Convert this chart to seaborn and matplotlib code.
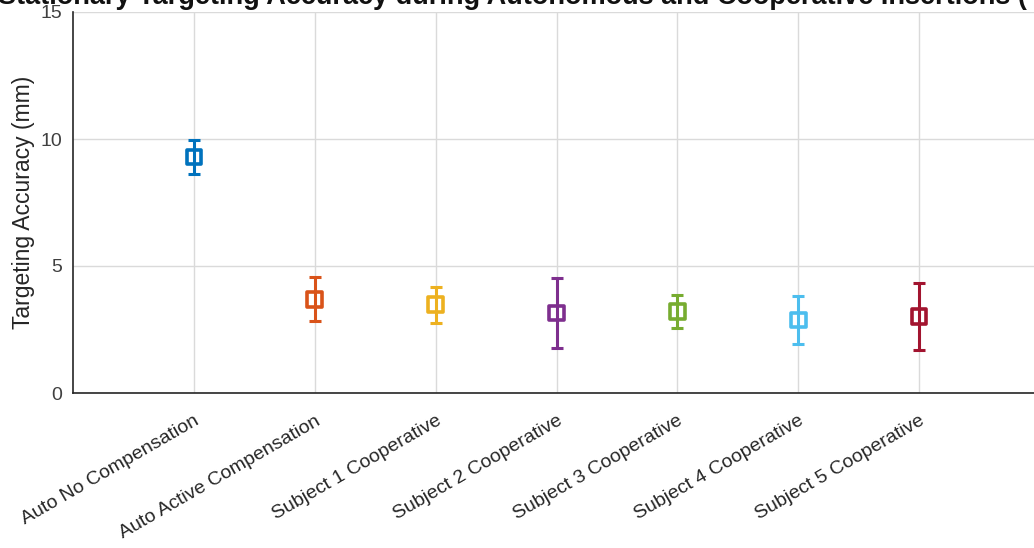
import numpy as np
import pandas as pd
import matplotlib
matplotlib.use("Agg")
import matplotlib.pyplot as plt
import seaborn as sns

categories = ["Auto No Compensation", "Auto Active Compensation",
              "Subject 1 Cooperative", "Subject 2 Cooperative",
              "Subject 3 Cooperative", "Subject 4 Cooperative",
              "Subject 5 Cooperative"]
means = [9.29, 3.69, 3.48, 3.15, 3.20, 2.88, 3.02]
errors = [0.67, 0.87, 0.71, 1.38, 0.66, 0.95, 1.31]
colors = ["#0072BD", "#D95319", "#EDB120", "#7E2F8E", "#77AC30", "#4DBEEE", "#A2142F"]
y_ticks = [0, 5, 10, 15]
title = "Stationary Targeting Accuracy during Autonomous and Cooperative Insertions ("
ylabel = "Targeting Accuracy (mm)"

sns.set_style("white")
plt.rcParams["font.family"] = ["Liberation Sans", "DejaVu Sans"]

W, H = 1034, 548
fig = plt.figure(figsize=(W / 100, H / 100), dpi=100)
ax = fig.add_axes([73 / W, 155 / H, 967 / W, 381 / H])

pos = np.arange(1, len(categories) + 1)
df = pd.DataFrame({"pos": pos, "mean": means, "err": errors, "cat": categories})

for x, m, e, c in zip(df["pos"], df["mean"], df["err"], colors):
    ax.errorbar(x, m, yerr=e, fmt="none", ecolor=c, elinewidth=2.2,
                capsize=4.3, capthick=2.2, zorder=3)

sns.scatterplot(data=df, x="pos", y="mean", hue="cat", palette=colors,
                marker="s", s=110, legend=False, ax=ax, zorder=4)
pts = ax.collections[-1]
fc = pts.get_facecolors()
pts.set_edgecolors(fc)
pts.set_facecolors("none")
pts.set_linewidths(2.6)

ax.set_xlim(0, 8)
ax.set_ylim(0, 15)
ax.set_yticks(y_ticks)
ax.set_yticklabels([str(t) for t in y_ticks], fontsize=14, color="#404040")
ax.set_xticks(pos)
ax.set_xticklabels(categories, rotation=30, ha="right", va="top",
                   rotation_mode="anchor", fontsize=14, color="#262626")
ax.tick_params(axis="both", direction="in", length=6, width=1.2, color="#262626")
ax.tick_params(axis="x", pad=14)
ax.tick_params(axis="y", pad=8)
ax.set_xlabel("")
ax.set_ylabel(ylabel, fontsize=16.5, color="#262626", labelpad=4)

ax.grid(True, color="#DADADA", linewidth=1.0)
ax.set_axisbelow(True)
for s in ["top", "right"]:
    ax.spines[s].set_visible(False)
for s in ["left", "bottom"]:
    ax.spines[s].set_color("#262626")
    ax.spines[s].set_linewidth(1.2)

fig.text(-0.002, 1 - 4 / H, title, ha="left", va="baseline",
         fontsize=19.5, fontweight="bold", color="#111111")

fig.savefig("out.png", dpi=100)
